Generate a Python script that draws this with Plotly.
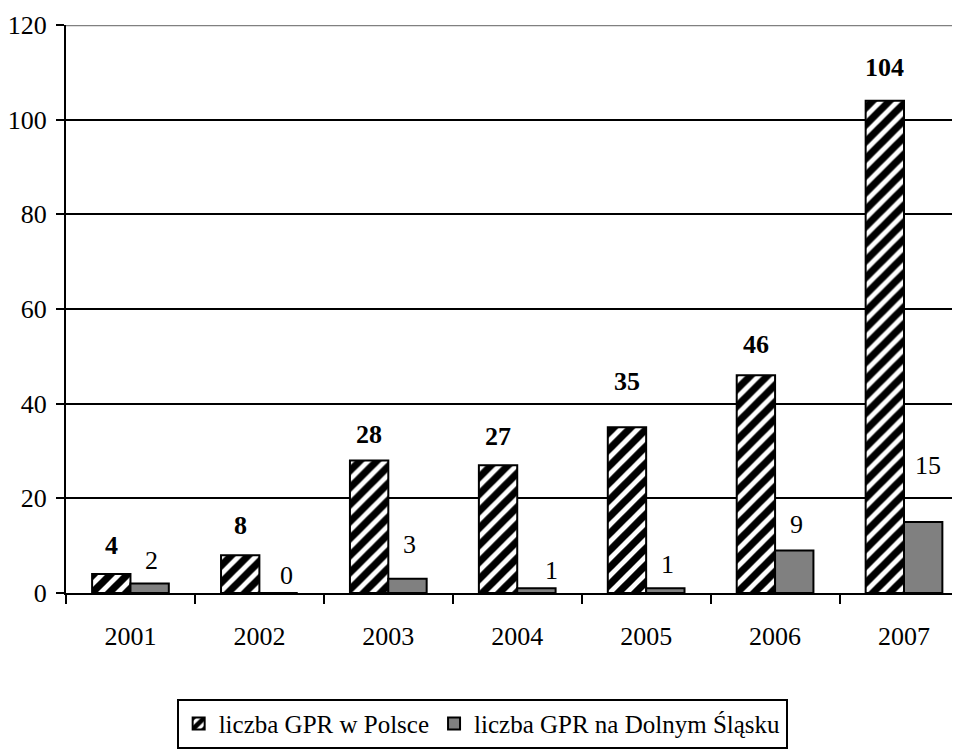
import plotly.graph_objects as go

years = ["2001", "2002", "2003", "2004", "2005", "2006", "2007"]
polska = [4, 8, 28, 27, 35, 46, 104]
dolny = [2, 0, 3, 1, 1, 9, 15]
name_polska = "liczba GPR w Polsce"
name_dolny = "liczba GPR na Dolnym Śląsku"
y_ticks = [0, 20, 40, 60, 80, 100, 120]

# label placement (pixels above bar top, pixel shift right)
polska_lbl_dy = [29, 30, 26, 29, 46, 31, 33]
dolny_lbl_dy = [23, 18, 34, 18, 24, 26, 57]
dolny_lbl_dx = [2, 8, 2, 15, 2, 2, 5]

FONT = "Liberation Serif"
FS = 26
bargap = 0.405
half = (1 - bargap) / 4

fig = go.Figure()
fig.add_trace(go.Bar(
    x=years, y=polska, name=name_polska,
    marker=dict(color="white", line=dict(color="black", width=2),
                pattern=dict(shape="/", fgcolor="black", bgcolor="white", fgopacity=1,
                             size=12, solidity=0.6, fillmode="overlay")),
))
fig.add_trace(go.Bar(
    x=years, y=dolny, name=name_dolny,
    marker=dict(color="#808080", line=dict(color="black", width=2)),
))

annotations = []
for i, v in enumerate(polska):
    annotations.append(dict(x=i - half, y=v, xref="x", yref="y", text=f"<b>{v}</b>",
                            showarrow=False, yanchor="middle", xanchor="center",
                            yshift=polska_lbl_dy[i],
                            font=dict(family=FONT, size=FS, color="black")))
for i, v in enumerate(dolny):
    annotations.append(dict(x=i + half, y=v, xref="x", yref="y", text=str(v),
                            showarrow=False, yanchor="middle", xanchor="center",
                            yshift=dolny_lbl_dy[i], xshift=dolny_lbl_dx[i],
                            font=dict(family=FONT, size=FS, color="black")))

fig.update_layout(
    width=952, height=741,
    margin=dict(l=54, r=0, t=17, b=154),
    paper_bgcolor="white", plot_bgcolor="white",
    barmode="group", bargap=bargap, bargroupgap=0,
    font=dict(family=FONT, size=FS, color="black"),
    annotations=annotations,
    showlegend=True,
    legend=dict(orientation="h", x=0.4655, xanchor="center", y=-0.186, yanchor="top",
                bordercolor="black", borderwidth=2, bgcolor="white",
                font=dict(family=FONT, size=25, color="black"),
                itemwidth=30, traceorder="normal"),
    shapes=[dict(type="line", xref="paper", yref="y", x0=0, x1=1, y0=120, y1=120,
                 line=dict(color="#808080", width=2.5), layer="above")],
)
fig.update_xaxes(
    type="category", range=[-0.5, -0.5 + 898 / 129.5],
    showline=True, linecolor="black", linewidth=2,
    ticks="outside", ticklen=9, tickwidth=2, tickcolor="black", tickson="boundaries",
    ticklabelstandoff=19, showgrid=False,
    tickfont=dict(family=FONT, size=FS, color="black"),
)
fig.update_yaxes(
    range=[0, 120], tickvals=y_ticks, ticktext=[str(t) for t in y_ticks],
    showline=True, linecolor="black", linewidth=2,
    ticks="outside", ticklen=8, tickwidth=2, tickcolor="black",
    showgrid=True, gridcolor="black", gridwidth=1.5, zeroline=False,
    ticklabelstandoff=4,
    tickfont=dict(family=FONT, size=FS, color="black"),
)

fig.write_html("out.html")
